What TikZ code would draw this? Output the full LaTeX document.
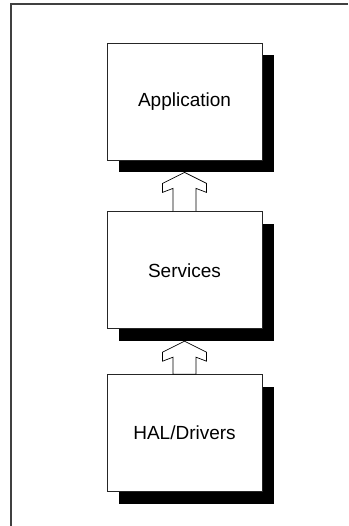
\documentclass[tikz,border=0pt]{standalone}
\usepackage{fontspec}
\setmainfont{Liberation Sans}
\usepackage{tikz}
\usetikzlibrary{positioning,shadows,calc}

\begin{document}
\begin{tikzpicture}[
    x=1pt, y=1pt,
    layer/.style={rectangle, draw=black!85, line width=0.8pt, fill=white,
        minimum width=155pt, minimum height=117pt, align=center,
        font=\fontsize{19}{22}\selectfont,
        drop shadow={shadow xshift=12pt, shadow yshift=-12pt, fill=black, opacity=1}},
    hollow/.style={draw=black, line width=0.7pt, fill=white, line join=miter}
]
    \useasboundingbox (0,0) rectangle (348,526);

    % Frame (cut off at right and bottom)
    \draw[black!75, line width=1.2pt] (348,522) -- (11,522) -- (11,0);

    % Layers
    \node[layer] (app) at (184.5,424.5) {Application};
    \node[layer, below=51pt of app] (srv) {Services};
    \node[layer, below=45pt of srv] (hal) {HAL/Drivers};

    % Hollow arrows between layers
    \foreach \upper/\lower in {app/srv, srv/hal} {
        \coordinate (tip) at ([yshift=-12pt]\upper.south);
        \draw[hollow] (tip) -- ++(-22,-11) -- ++(0,-9) -- ++(10.5,4)
            -- ($(tip |- \lower.north)+(-11.5,0)$)
            -- ($(tip |- \lower.north)+(11.5,0)$)
            -- ($(tip)+(11.5,-16)$) -- ++(10.5,-4) -- ++(0,9) -- cycle;
    }
\end{tikzpicture}
\end{document}
